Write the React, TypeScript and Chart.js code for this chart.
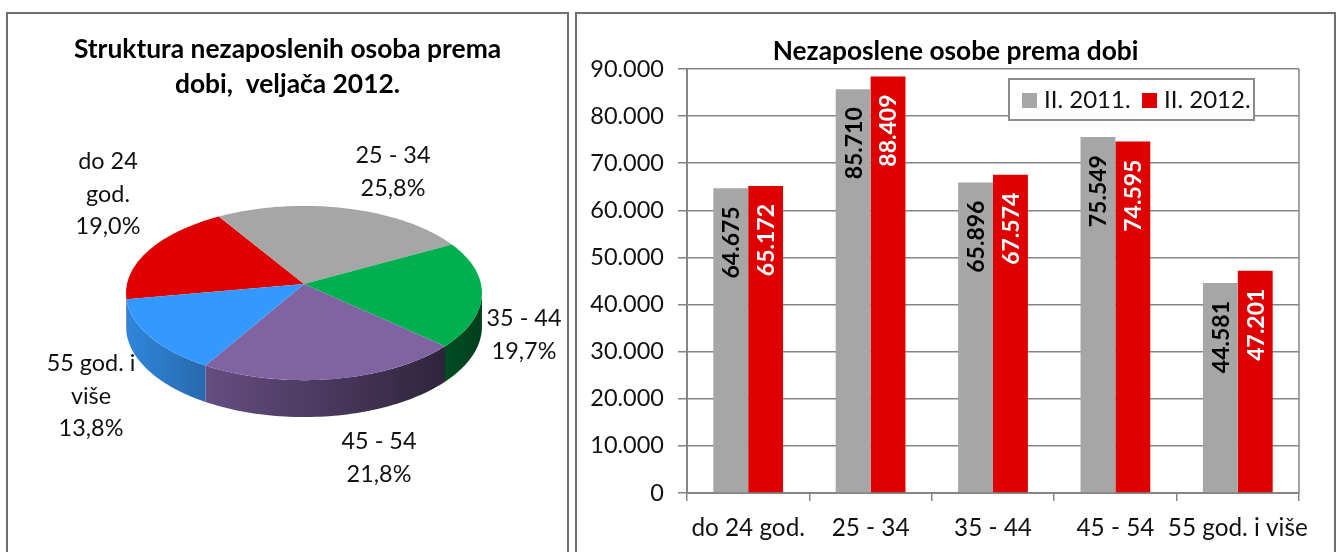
import React, { useEffect, useRef } from "react";
import { Chart, registerables } from "chart.js";

Chart.register(...registerables);

const ageCategories = ["do 24 god.", "25 - 34", "35 - 44", "45 - 54", "55 god. i više"];
const series2011 = [64675, 85710, 65896, 75549, 44581];
const series2012 = [65172, 88409, 67574, 74595, 47201];
const seriesNames = ["II. 2011.", "II. 2012."];
const yTicks = [0, 10000, 20000, 30000, 40000, 50000, 60000, 70000, 80000, 90000];
const pieCategoryLines = [["do 24", "god."], ["25 - 34"], ["35 - 44"], ["45 - 54"], ["55 god. i", "više"]];
const pieColors = ["#E00000", "#A6A6A6", "#00B050", "#8064A2", "#3399FF"];
const pieTitleLines = ["Struktura nezaposlenih osoba prema", "dobi,  veljača 2012."];
const barTitle = "Nezaposlene osobe prema dobi";

const FONT = "Lato, 'Noto Sans', sans-serif";
const GRID = "#858585";
const TEXT = "#111111";

// Side wall shading per slice: [left colour, right colour]
const sideColors = [
  ["#a00000", "#a00000"],
  ["#777777", "#777777"],
  ["#004d22", "#003f1b"],
  ["#654e80", "#2f243c"],
  ["#2f86dc", "#2869ad"],
];
// Hand placed label anchors (canvas coordinates of the pie chart): centre x, first baseline
const pieLabelAnchors = [
  [101, 156],
  [386, 150],
  [517, 313],
  [372, 436],
  [84, 358],
];
const LINE_STEP = 32.5;
const TILT = 0.487;
const PERSPECTIVE = 0.1035;
const DEPTH = 0.187;

const dotted = (v: number) => {
  const s = String(Math.round(v));
  return s.length > 3 ? s.slice(0, -3) + "." + s.slice(-3) : s;
};

const project = (el: any, angle: number, down = 0) => {
  const X = Math.cos(angle);
  const Y = Math.sin(angle);
  const w = 1 - PERSPECTIVE * Y;
  const R = el.outerRadius;
  return {
    x: el.x + (R * X) / w,
    y: el.y + (R * TILT * Y) / w + (down * R * DEPTH) / w,
  };
};

const piePlugin = {
  id: "tiltedPie",
  beforeDatasetsDraw(chart: any) {
    const ctx = chart.ctx as CanvasRenderingContext2D;
    const arcs = chart.getDatasetMeta(0).data as any[];
    const silhouette = Math.asin(PERSPECTIVE);
    ctx.save();
    // side walls
    arcs.forEach((el, i) => {
      let s = el.startAngle;
      let e = el.endAngle;
      for (const turn of [-2 * Math.PI, 0, 2 * Math.PI]) {
        const a = Math.max(s + turn, silhouette);
        const b = Math.min(e + turn, Math.PI - silhouette);
        if (b <= a) continue;
        const left = project(el, b);
        const right = project(el, a);
        const g = ctx.createLinearGradient(left.x, 0, right.x, 0);
        g.addColorStop(0, sideColors[i][0]);
        g.addColorStop(1, sideColors[i][1]);
        ctx.fillStyle = g;
        ctx.beginPath();
        const n = 60;
        for (let k = 0; k <= n; k++) {
          const p = project(el, a + ((b - a) * k) / n);
          k === 0 ? ctx.moveTo(p.x, p.y) : ctx.lineTo(p.x, p.y);
        }
        for (let k = n; k >= 0; k--) {
          const p = project(el, a + ((b - a) * k) / n, 1);
          ctx.lineTo(p.x, p.y);
        }
        ctx.closePath();
        ctx.fill();
      }
    });
    // top face
    arcs.forEach((el, i) => {
      ctx.fillStyle = pieColors[i];
      ctx.beginPath();
      ctx.moveTo(el.x, el.y);
      const n = 80;
      for (let k = 0; k <= n; k++) {
        const p = project(el, el.startAngle + ((el.endAngle - el.startAngle) * k) / n);
        ctx.lineTo(p.x, p.y);
      }
      ctx.closePath();
      ctx.fill();
    });
    ctx.restore();
    return false;
  },
  afterDraw(chart: any) {
    const ctx = chart.ctx as CanvasRenderingContext2D;
    const values = chart.data.datasets[0].data as number[];
    const total = values.reduce((a, b) => a + b, 0);
    ctx.save();
    ctx.textAlign = "center";
    ctx.textBaseline = "alphabetic";
    ctx.fillStyle = "#000000";
    ctx.font = `bold 26.4px ${FONT}`;
    pieTitleLines.forEach((line, i) => ctx.fillText(line, chart.width / 2, 45 + i * 35));
    ctx.fillStyle = TEXT;
    ctx.font = `23.4px ${FONT}`;
    values.forEach((v, i) => {
      const pct = ((v / total) * 100).toFixed(1).replace(".", ",") + "%";
      const lines = [...pieCategoryLines[i], pct];
      lines.forEach((line, j) => ctx.fillText(line, pieLabelAnchors[i][0], pieLabelAnchors[i][1] + j * LINE_STEP));
    });
    ctx.restore();
  },
};

const barPlugin = {
  id: "barExtras",
  beforeDatasetsDraw(chart: any) {
    const { ctx, chartArea: a } = chart;
    ctx.save();
    ctx.strokeStyle = GRID;
    ctx.lineWidth = 1.5;
    ctx.beginPath();
    ctx.moveTo(a.right, a.top);
    ctx.lineTo(a.right, a.bottom);
    ctx.stroke();
    ctx.restore();
  },
  afterDatasetsDraw(chart: any) {
    const ctx = chart.ctx as CanvasRenderingContext2D;
    ctx.save();
    ctx.font = `bold 23px ${FONT}`;
    ctx.textBaseline = "middle";
    ctx.textAlign = "right";
    chart.data.datasets.forEach((ds: any, d: number) => {
      ctx.fillStyle = d === 0 ? "#000000" : "#FFFFFF";
      chart.getDatasetMeta(d).data.forEach((bar: any, i: number) => {
        ctx.save();
        ctx.translate(bar.x, bar.y + 18);
        ctx.rotate(-Math.PI / 2);
        ctx.fillText(dotted(ds.data[i]), 0, 1);
        ctx.restore();
      });
    });
    ctx.restore();
  },
  afterDraw(chart: any) {
    const ctx = chart.ctx as CanvasRenderingContext2D;
    ctx.save();
    ctx.fillStyle = "#000000";
    ctx.textAlign = "center";
    ctx.font = `bold 26.3px ${FONT}`;
    ctx.fillText(barTitle, chart.width / 2, 46);
    // legend box
    const lx = 433;
    const ly = 65;
    ctx.fillStyle = "#FFFFFF";
    ctx.strokeStyle = "#8C8C8C";
    ctx.lineWidth = 2;
    ctx.fillRect(lx, ly, 245, 41);
    ctx.strokeRect(lx, ly, 245, 41);
    ctx.textAlign = "left";
    ctx.font = `24px ${FONT}`;
    const swatchX = [lx + 13, lx + 133];
    chart.data.datasets.forEach((ds: any, d: number) => {
      ctx.fillStyle = ds.backgroundColor;
      ctx.fillRect(swatchX[d], ly + 14, 15, 15);
      ctx.fillStyle = TEXT;
      ctx.fillText(ds.label, swatchX[d] + 22, ly + 29);
    });
    ctx.restore();
  },
};

export default function App() {
  const pieRef = useRef<HTMLCanvasElement>(null);
  const barRef = useRef<HTMLCanvasElement>(null);

  useEffect(() => {
    const pie = new Chart(pieRef.current!, {
      type: "pie",
      data: {
        labels: ageCategories,
        datasets: [{ data: series2012, backgroundColor: pieColors, borderWidth: 0, hoverOffset: 0 }],
      },
      options: {
        animation: false,
        responsive: false,
        rotation: -100,
        layout: { padding: { left: 120, right: 87, top: 94, bottom: 91 } },
        plugins: { legend: { display: false }, tooltip: { enabled: false } },
      },
      plugins: [piePlugin],
    } as any);

    const bar = new Chart(barRef.current!, {
      type: "bar",
      data: {
        labels: ageCategories,
        datasets: [
          { label: seriesNames[0], data: series2011, backgroundColor: "#A6A6A6", categoryPercentage: 0.57, barPercentage: 1 },
          { label: seriesNames[1], data: series2012, backgroundColor: "#DE0000", categoryPercentage: 0.57, barPercentage: 1 },
        ],
      },
      options: {
        animation: false,
        responsive: false,
        layout: { padding: { left: 0, right: 36, top: 55, bottom: 0 } },
        plugins: { legend: { display: false }, tooltip: { enabled: false } },
        scales: {
          x: {
            afterFit: (s: any) => { s.height = 59; },
            grid: { display: true, drawOnChartArea: false, drawTicks: true, tickLength: 8, color: GRID, lineWidth: 1.5 },
            border: { color: GRID, width: 2 },
            ticks: { color: TEXT, font: { family: FONT, size: 24.3 }, padding: 13, maxRotation: 0, minRotation: 0, autoSkip: false },
          },
          y: {
            min: 0,
            max: 90000,
            afterFit: (s: any) => { s.width = 111; },
            afterBuildTicks: (s: any) => { s.ticks = yTicks.map((value) => ({ value })); },
            grid: { color: GRID, lineWidth: 1.5, tickLength: 9, drawTicks: true },
            border: { color: GRID, width: 2 },
            ticks: { color: TEXT, font: { family: FONT, size: 23.5 }, padding: 14, callback: (v: any) => dotted(Number(v)) },
          },
        },
      },
      plugins: [barPlugin],
    } as any);

    return () => {
      pie.destroy();
      bar.destroy();
    };
  }, []);

  const panel = (left: number, width: number): React.CSSProperties => ({
    position: "absolute",
    left,
    top: 12,
    width,
    height: 600,
    border: "2px solid #6F6F6F",
    boxSizing: "border-box",
  });

  return (
    <div style={{ position: "absolute", left: 0, top: 0, width: 1337, height: 552, overflow: "hidden", background: "#fff" }}>
      <div style={panel(6, 563)} />
      <div style={panel(575, 761)} />
      <canvas ref={pieRef} width={561} height={539} style={{ position: "absolute", left: 7, top: 13 }} />
      <canvas ref={barRef} width={759} height={538} style={{ position: "absolute", left: 576, top: 14 }} />
    </div>
  );
}
